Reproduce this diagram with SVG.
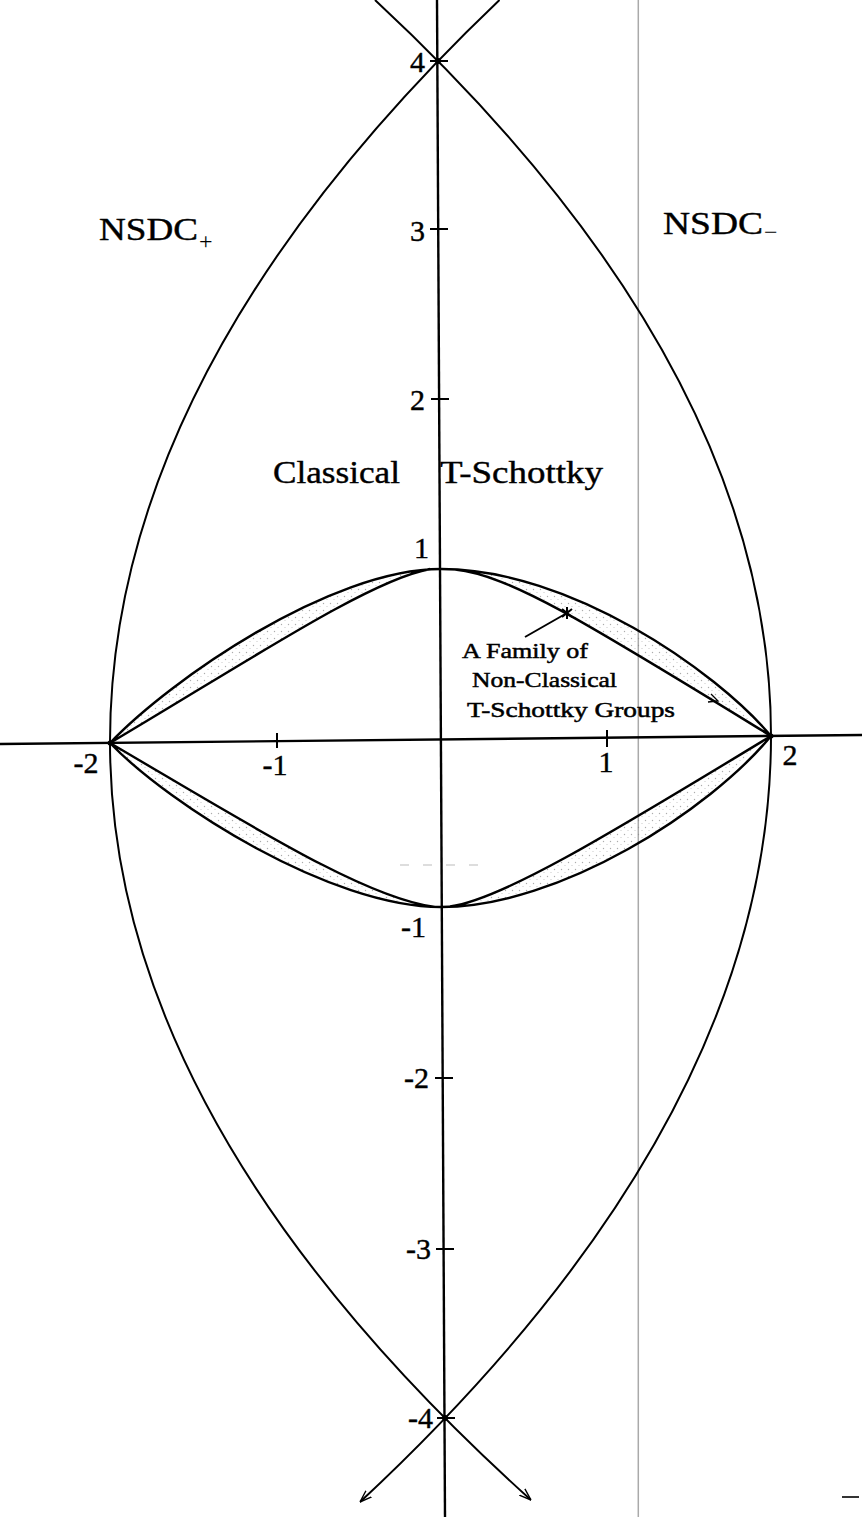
<svg xmlns="http://www.w3.org/2000/svg" width="862" height="1517" viewBox="0 0 862 1517">
<style>
.ax{stroke:#000;stroke-width:2.4;fill:none}
.tk{stroke:#000;stroke-width:2;fill:none}
.cv{stroke:#000;stroke-width:2;fill:none}
.bd{stroke:#000;stroke-width:2.4;fill:none;stroke-linejoin:round}
.num{font-family:"Liberation Serif","DejaVu Serif",serif;font-size:30px;fill:#000;stroke:#000;stroke-width:0.4}
.big{font-family:"Liberation Serif","DejaVu Serif",serif;font-size:31px;fill:#000;stroke:#000;stroke-width:0.4}
.sm{font-family:"Liberation Serif","DejaVu Serif",serif;font-size:22px;fill:#000;stroke:#000;stroke-width:0.5}
.sub{font-family:"Liberation Serif","DejaVu Serif",serif;font-size:24px;fill:#000}
</style>
<defs>
<pattern id="stip" width="7" height="7" patternUnits="userSpaceOnUse">
<circle cx="1.5" cy="1.5" r="0.7" fill="#888"/>
<circle cx="5" cy="4.5" r="0.6" fill="#aaa"/>
</pattern>
<marker id="arr" viewBox="0 0 12 10" refX="12" refY="5" markerWidth="12" markerHeight="10" markerUnits="userSpaceOnUse" orient="auto">
<path d="M0,0.8 L12,5 L0,9.2" fill="none" stroke="#000" stroke-width="1.4"/>
</marker>
</defs>
<rect width="862" height="1517" fill="#fff"/>

<g id="gray-line">
<line x1="638.3" y1="0" x2="638.3" y2="1517" stroke="#aaa" stroke-width="1.5"/>
<line x1="400" y1="865" x2="486" y2="865" stroke="#bbb" stroke-width="1.2" stroke-dasharray="9,14"/>
<line x1="842" y1="1497" x2="859" y2="1497" stroke="#000" stroke-width="1.6"/>
</g>

<g id="axes">
<line class="ax" x1="437" y1="0" x2="445" y2="1517"/>
<line class="ax" x1="0" y1="744" x2="862" y2="735"/>
<path class="tk" d="M430,61 H448 M430,229 H448 M431,399 H449 M435,1078 H453 M436,1249 H454 M437,1418 H455 M277,733 V748 M607,730 V747"/>
</g>

<g id="shading">
<path d="M110,743 C170,680 330,569 441,569 L430,569 C370,580 250,660 110,743 Z" fill="url(#stip)" opacity="0.7"/>
<path d="M441,569 C570,569 715,670 771,736 C590,625 510,575 455,569.5 Z" fill="url(#stip)" opacity="0.7"/>
<path d="M110,743 C170,805 330,907 441,907 L435,907 C365,898 250,825 110,743 Z" fill="url(#stip)" opacity="0.7"/>
<path d="M441,907 C560,907 710,810 771,736 C600,840 500,900 450,906.5 Z" fill="url(#stip)" opacity="0.7"/>
</g>

<g id="connectors">
<path id="left-parabola" class="cv" d="M499.5,0 Q110,371 110,742 Q110,1121 531,1500" marker-end="url(#arr)"/>
<path id="right-parabola" class="cv" d="M375,0 Q771,368 771,736 Q771,1119 360,1502" marker-end="url(#arr)"/>
<path id="band-ul" class="bd" d="M110,743 C170,680 330,569 441,569 M110,743 C250,660 370,580 430,569"/>
<path id="band-ur" class="bd" d="M441,569 C570,569 715,670 771,736 M455,569.5 C510,575 590,625 771,736"/>
<path id="band-ll" class="bd" d="M110,743 C170,805 330,907 441,907 M110,743 C250,825 365,898 435,907"/>
<path id="band-lr" class="bd" d="M441,907 C560,907 710,810 771,736 M450,906.5 C500,900 600,840 771,736"/>
<path id="pointer" stroke="#000" stroke-width="2" fill="none" d="M525,637 L567,613 M562,609 L572,617 M562,617 L572,609 M567,607 L567,619"/>
<path stroke="#000" stroke-width="1.3" fill="none" d="M711,694 L718,701 L708,702"/>
</g>

<g id="points">
<circle cx="438" cy="61" r="3"/>
<circle cx="445" cy="1418" r="3"/>
<circle cx="110" cy="743" r="2.5"/>
<circle cx="771" cy="736" r="2.5"/>
</g>

<g id="axis-labels">
<text class="num" x="425" y="72" text-anchor="end">4</text>
<text class="num" x="425" y="241" text-anchor="end">3</text>
<text class="num" x="425" y="410" text-anchor="end">2</text>
<text class="num" x="429" y="558" text-anchor="end">1</text>
<text class="num" x="426" y="937" text-anchor="end">-1</text>
<text class="num" x="429" y="1088" text-anchor="end">-2</text>
<text class="num" x="431" y="1259" text-anchor="end">-3</text>
<text class="num" x="433" y="1428" text-anchor="end">-4</text>
<text class="num" x="86" y="773" text-anchor="middle">-2</text>
<text class="num" x="275" y="775" text-anchor="middle">-1</text>
<text class="num" x="606" y="772" text-anchor="middle">1</text>
<text class="num" x="790" y="765" text-anchor="middle">2</text>
</g>

<g id="label-nsdc-plus">
<text class="big" x="99" y="240" textLength="99" lengthAdjust="spacingAndGlyphs">NSDC</text>
<text class="sub" x="199" y="249">+</text>
</g>
<g id="label-nsdc-minus">
<text class="big" x="663" y="234" textLength="100" lengthAdjust="spacingAndGlyphs">NSDC</text>
<text class="sub" x="764" y="240" font-size="18">−</text>
</g>
<g id="label-classical">
<text class="big" x="273" y="483" textLength="127" lengthAdjust="spacingAndGlyphs">Classical</text>
<text class="big" x="440" y="483" textLength="163" lengthAdjust="spacingAndGlyphs">T-Schottky</text>
</g>
<g id="label-family">
<text class="sm" x="462" y="658" textLength="126" lengthAdjust="spacingAndGlyphs">A Family of</text>
<text class="sm" x="472" y="687" textLength="145" lengthAdjust="spacingAndGlyphs">Non-Classical</text>
<text class="sm" x="467" y="717" textLength="208" lengthAdjust="spacingAndGlyphs">T-Schottky Groups</text>
</g>
</svg>
